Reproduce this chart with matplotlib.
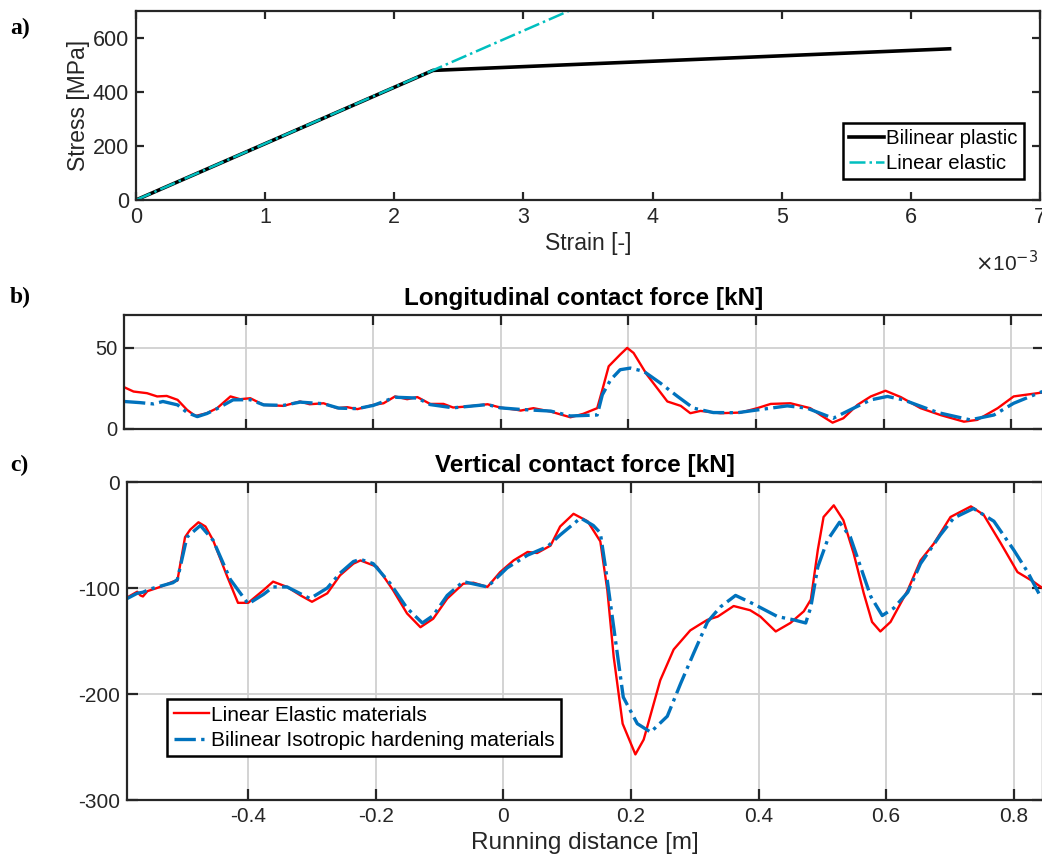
import numpy as np
import matplotlib.pyplot as plt
from matplotlib.ticker import FuncFormatter

plt.rcParams['font.family'] = ['Liberation Sans', 'DejaVu Sans']
plt.rcParams['axes.unicode_minus'] = False

# a) material curves
strain_bl = [0.0, 2.3e-3, 6.3e-3]
stress_bl = [0, 480, 560]
strain_le = [0.0, 3.35e-3]
stress_le = [0, 700]

# b) longitudinal contact force [kN]
xb_le = [-0.591, -0.576, -0.555, -0.539, -0.524, -0.507, -0.492, -0.479, -0.461, -0.445,
         -0.424, -0.409, -0.393, -0.372, -0.341, -0.315, -0.300, -0.278, -0.257, -0.241,
         -0.225, -0.200, -0.184, -0.166, -0.147, -0.131, -0.111, -0.090, -0.075, -0.053,
         -0.021, -0.001, 0.026, 0.031, 0.051, 0.078, 0.109, 0.129, 0.151, 0.159,
         0.169, 0.187, 0.198, 0.208, 0.229, 0.245, 0.261, 0.282, 0.297, 0.313,
         0.344, 0.376, 0.402, 0.423, 0.454, 0.485, 0.501, 0.520, 0.537, 0.559,
         0.580, 0.603, 0.627, 0.658, 0.689, 0.726, 0.747, 0.779, 0.804, 0.830, 0.849]
fb_le = [25.7, 23, 22, 20, 20.3, 17.9, 11.7, 8, 9.7, 12.8,
         20, 18.3, 18.9, 14.8, 14.2, 16.9, 15.2, 15.8, 12.8, 13.4,
         12.2, 14.8, 15.8, 20, 18.3, 19.6, 15.4, 15.4, 13.2, 13.8,
         15.2, 13.2, 11.7, 11.3, 12.8, 10.7, 7.2, 9.3, 12.8, 24,
         38.5, 45.7, 49.8, 46.7, 33.3, 25.1, 16.9, 14.2, 9.7, 11.1,
         9.7, 10.1, 12.8, 15.4, 15.8, 12.8, 8.6, 3.9, 6.6, 14.8,
         20, 23.5, 19.6, 12.8, 8.6, 4.5, 5.6, 12.8, 20, 21.4, 22.4]
xb_bi = [-0.591, -0.566, -0.545, -0.530, -0.507, -0.492, -0.476, -0.461, -0.445, -0.420,
         -0.393, -0.372, -0.341, -0.315, -0.278, -0.254, -0.225, -0.200, -0.166, -0.131,
         -0.111, -0.075, -0.021, -0.001, 0.031, 0.078, 0.109, 0.151, 0.159, 0.172,
         0.187, 0.203, 0.224, 0.250, 0.277, 0.302, 0.333, 0.371, 0.402, 0.449,
         0.480, 0.521, 0.553, 0.580, 0.606, 0.631, 0.685, 0.736, 0.773, 0.804, 0.849]
fb_bi = [16.9, 16.2, 15.4, 16.9, 14.8, 10.1, 7.6, 9.5, 12.5, 17.9,
         18, 14.8, 14.5, 16.5, 15.5, 12.8, 12.5, 14.5, 19.5, 19,
         15, 13, 15, 13, 12, 11, 8, 8.6, 21, 30.2,
         36.4, 37.4, 35.4, 28.2, 20, 12.8, 10.1, 10, 11.7, 14.2,
         12.8, 6.6, 12.8, 17.9, 20, 17.9, 10.1, 5.6, 8.6, 15.8, 23]

# c) vertical contact force [kN]
xc_le = [-0.590, -0.574, -0.569, -0.565, -0.558, -0.538, -0.518, -0.511, -0.499, -0.491,
         -0.478, -0.467, -0.455, -0.433, -0.416, -0.400, -0.376, -0.361, -0.339, -0.318,
         -0.300, -0.276, -0.256, -0.235, -0.224, -0.198, -0.173, -0.151, -0.130, -0.110,
         -0.088, -0.063, -0.047, -0.025, -0.005, 0.016, 0.038, 0.053, 0.074, 0.089,
         0.110, 0.132, 0.152, 0.163, 0.173, 0.187, 0.207, 0.220, 0.246, 0.267,
         0.293, 0.309, 0.320, 0.336, 0.361, 0.387, 0.403, 0.427, 0.450, 0.471,
         0.482, 0.493, 0.502, 0.518, 0.533, 0.549, 0.565, 0.578, 0.591, 0.607,
         0.634, 0.654, 0.675, 0.701, 0.733, 0.753, 0.780, 0.806, 0.831, 0.845]
fc_le = [-109, -103.5, -107, -108, -103, -99, -94, -93, -52, -45,
         -38, -42, -55, -89, -114, -114, -102, -94, -99, -107,
         -113, -105, -88, -77, -74, -80, -102, -124, -137, -129,
         -110, -96, -95, -99, -85, -74, -66, -67, -60, -42,
         -30, -37, -56, -102, -165, -228, -257, -243, -187, -158,
         -140, -134, -130, -127, -117, -121, -127, -141, -133, -122,
         -111, -64, -33, -22, -36, -67, -105, -132, -141, -132,
         -102, -74, -58, -33, -23, -31, -58, -85, -94, -100]
xc_bi = [-0.590, -0.574, -0.565, -0.554, -0.518, -0.511, -0.496, -0.475, -0.455, -0.428,
         -0.400, -0.376, -0.361, -0.339, -0.303, -0.276, -0.256, -0.235, -0.224, -0.204,
         -0.177, -0.151, -0.127, -0.110, -0.088, -0.063, -0.025, 0.006, 0.038, 0.069,
         0.089, 0.121, 0.141, 0.152, 0.160, 0.173, 0.188, 0.210, 0.231, 0.257,
         0.278, 0.298, 0.320, 0.340, 0.364, 0.392, 0.430, 0.455, 0.474, 0.482,
         0.493, 0.508, 0.527, 0.544, 0.560, 0.576, 0.594, 0.612, 0.634, 0.654,
         0.685, 0.706, 0.737, 0.769, 0.800, 0.822, 0.842]
fc_bi = [-110, -105, -104, -101, -95, -92, -52, -41, -55, -92,
         -115, -106, -99, -99, -110, -100, -86, -75, -73, -77,
         -96, -119, -133, -126, -107, -94, -99, -81, -69, -61,
         -50, -34, -41, -48, -80, -137, -203, -228, -236, -221,
         -190, -162, -132, -118, -107, -115, -127, -130, -133, -118,
         -80, -55, -38, -52, -80, -108, -126, -119, -104, -77,
         -50, -34, -25, -37, -64, -85, -108]

xticks_c = [-0.4, -0.2, 0, 0.2, 0.4, 0.6, 0.8]

dark = '#262626'
fig = plt.figure(figsize=(10.42, 8.67), dpi=100)
W, H = 1042, 867


def box(ax, fs, tl):
    for s in ax.spines.values():
        s.set_linewidth(1.6)
        s.set_color(dark)
    ax.tick_params(direction='in', top=True, right=True, length=tl, width=1.6,
                   colors=dark, labelsize=fs, pad=5)


# panel a
ax = fig.add_axes([136 / W, 1 - 200 / H, 904 / W, 189 / H])
ax.plot(strain_bl, stress_bl, color='black', lw=2.6, label='Bilinear plastic')
ax.plot(strain_le, stress_le, color='#00BFBF', lw=1.8, ls='-.', label='Linear elastic')
ax.set_xlim(0, 7e-3)
ax.set_ylim(0, 700)
ax.set_xticks(np.arange(0, 8) * 1e-3)
ax.set_yticks([0, 200, 400, 600])
ax.xaxis.set_major_formatter(FuncFormatter(lambda v, p: f'{v * 1e3:g}'))
box(ax, 15.5, 6)
ax.set_xlabel('Strain [-]', fontsize=16.5, color=dark, labelpad=3)
ax.set_ylabel('Stress [MPa]', fontsize=16.5, color=dark, labelpad=2)
ax.text(0.998, -0.33, r'$\times$10$^{-3}$', transform=ax.transAxes, ha='right',
        va='center', fontsize=15, color=dark)
leg = ax.legend(loc='lower right', bbox_to_anchor=(0.982, 0.11), fontsize=14.7,
                fancybox=False, edgecolor='black', framealpha=1, handlelength=1.7,
                handletextpad=0.1, borderpad=0.3, labelspacing=0.3, borderaxespad=0)
leg.get_frame().set_linewidth(1.8)

# panel b
ax = fig.add_axes([124 / W, 1 - 429 / H, 919 / W, 114 / H])
ax.plot(xb_le, fb_le, color='red', lw=1.7)
ax.plot(xb_bi, fb_bi, color='#0072BD', lw=2.4, ls='-.')
ax.set_xlim(-0.591, 0.85)
ax.set_ylim(0, 70)
ax.set_xticks(xticks_c)
ax.set_xticklabels([])
ax.set_yticks([0, 50])
ax.grid(True, color='#d0d0d0', lw=1.3)
ax.set_axisbelow(True)
box(ax, 14.5, 7)
ax.set_title('Longitudinal contact force [kN]', fontsize=17.5, fontweight='bold', pad=7)

# panel c
ax = fig.add_axes([127 / W, 1 - 800 / H, 916 / W, 318 / H])
ax.plot(xc_le, fc_le, color='red', lw=1.7, label='Linear Elastic materials')
ax.plot(xc_bi, fc_bi, color='#0072BD', lw=2.4, ls='-.',
        label='Bilinear Isotropic hardening materials')
ax.set_xlim(-0.59, 0.846)
ax.set_ylim(-300, 0)
ax.set_xticks(xticks_c)
ax.set_xticklabels([f'{v:g}' for v in xticks_c])
ax.set_yticks([-300, -200, -100, 0])
ax.grid(True, color='#d0d0d0', lw=1.3)
ax.set_axisbelow(True)
box(ax, 15, 8)
ax.set_xlabel('Running distance [m]', fontsize=17.5, color=dark, labelpad=4)
ax.set_title('Vertical contact force [kN]', fontsize=17.5, fontweight='bold', pad=7)
leg = ax.legend(loc='lower left', bbox_to_anchor=(0.044, 0.138), fontsize=15,
                fancybox=False, edgecolor='black', framealpha=1, handlelength=1.7,
                handletextpad=0.1, borderpad=0.3, labelspacing=0.3, borderaxespad=0)
leg.get_frame().set_linewidth(1.8)

for lab, y in [('a)', 28), ('b)', 297), ('c)', 465)]:
    fig.text(10 / W, 1 - y / H, lab, fontsize=17, fontweight='bold',
             family='Liberation Serif', va='center')

fig.savefig('out.png', dpi=100)
